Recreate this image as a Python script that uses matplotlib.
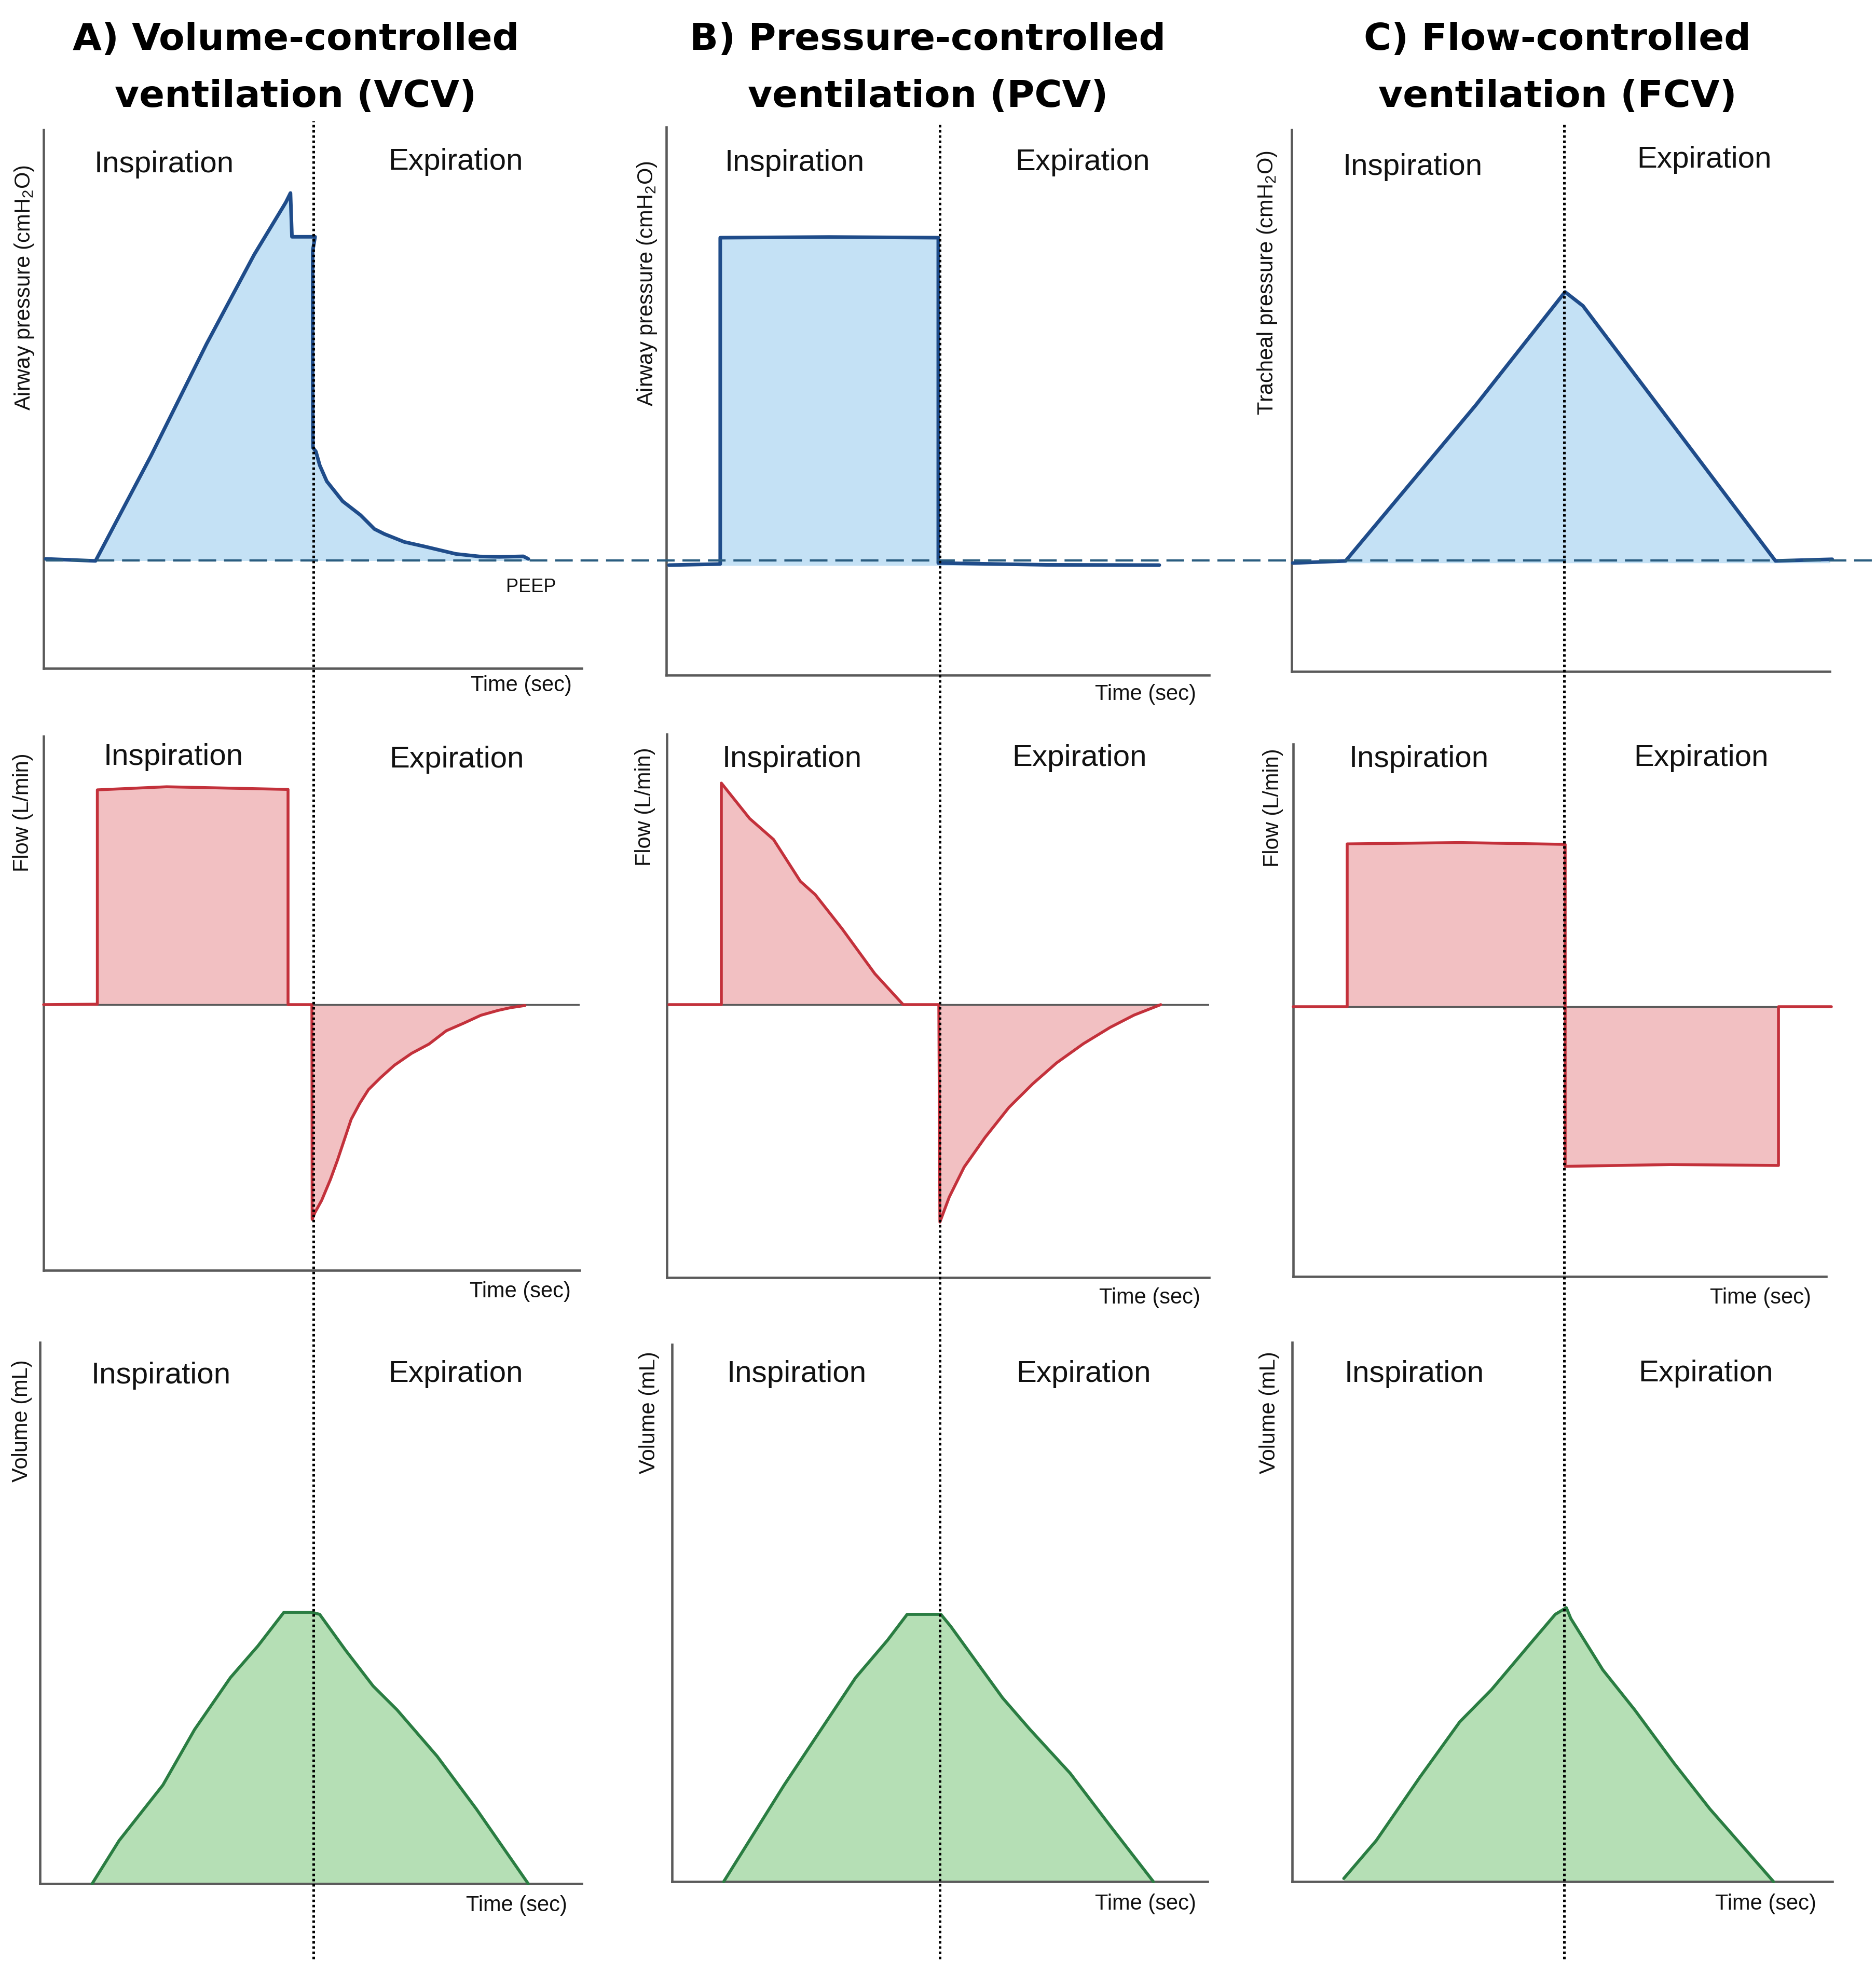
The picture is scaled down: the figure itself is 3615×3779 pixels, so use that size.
import matplotlib
matplotlib.use("Agg")
import matplotlib.pyplot as plt
from matplotlib.lines import Line2D
from matplotlib.transforms import blended_transform_factory

plt.rcParams['font.family'] = ['Liberation Sans', 'DejaVu Sans']
plt.rcParams['mathtext.fontset'] = 'custom'
plt.rcParams['mathtext.rm'] = 'Liberation Sans'
plt.rcParams['mathtext.it'] = 'Liberation Sans:italic'
plt.rcParams['mathtext.bf'] = 'Liberation Sans:bold'

# ---------------- data ----------------
T_MAX = 4.0        # s shown on each time axis
P_MAX = 40.0       # cmH2O
PEEP = 8.0         # cmH2O
F_MAX = 60.0       # L/min
V_MAX = 1000.0     # mL

titles = ["A) Volume-controlled", "B) Pressure-controlled", "C) Flow-controlled"]
subtitles = ["ventilation (VCV)", "ventilation (PCV)", "ventilation (FCV)"]
pressure_labels = ["Airway pressure (cmH$_2$O)", "Airway pressure (cmH$_2$O)",
                   "Tracheal pressure (cmH$_2$O)"]
flow_label = "Flow (L/min)"
volume_label = "Volume (mL)"
time_label = "Time (sec)"
insp_text = "Inspiration"
exp_text = "Expiration"
insp_end = [2.005, 2.015, 2.025]   # end of inspiration (s) per mode

# pressure
vcv_p_t = [0.015, 0.386, 0.798, 1.211, 1.565, 1.800, 1.835, 1.846, 2.018, 2.000,
           2.000, 2.002, 2.024, 2.053, 2.105, 2.223, 2.356, 2.459, 2.533, 2.681,
           2.828, 3.064, 3.241, 3.389, 3.566, 3.603]
vcv_p = [8.13, 7.98, 15.78, 24.09, 30.72, 34.6, 35.3, 32.05, 32.05, 31.0,
         22.0, 16.39, 16.10, 15.07, 13.89, 12.41, 11.38, 10.35, 9.98, 9.39,
         9.06, 8.50, 8.31, 8.28, 8.32, 8.13]
pcv_p_t = [0.021, 0.399, 0.399, 1.20, 2.005, 2.005, 2.80, 3.633]
pcv_p = [8.03, 8.11, 31.93, 31.98, 31.93, 8.18, 8.05, 8.03]
fcv_p_t = [0.008, 0.401, 1.368, 2.032, 2.165, 3.596, 4.018]
fcv_p = [7.99, 8.15, 19.65, 28.02, 26.99, 8.15, 8.27]

# flow
vcv_f_t = [0.0, 0.401, 0.401, 0.918, 1.824, 1.824, 2.002, 2.004, 2.024, 2.075,
           2.140, 2.192, 2.243, 2.295, 2.359, 2.424, 2.514, 2.617, 2.746, 2.876,
           3.005, 3.134, 3.263, 3.392, 3.482, 3.592]
vcv_f = [0.0, 0.1, 48.5, 49.2, 48.6, 0.0, 0.0, -48.5, -47.0, -44.2,
         -39.5, -35.2, -30.6, -25.9, -22.3, -19.2, -16.5, -13.7, -11.0, -8.9,
         -5.9, -4.2, -2.4, -1.3, -0.7, -0.2]
pcv_f_t = [0.015, 0.402, 0.402, 0.611, 0.787, 0.985, 1.094, 1.292, 1.534, 1.743,
           2.006, 2.014, 2.083, 2.193, 2.347, 2.523, 2.699, 2.875, 3.072, 3.270,
           3.446, 3.643]
pcv_f = [0.0, 0.0, 48.7, 40.9, 36.3, 27.1, 24.2, 16.7, 6.8, 0.0,
         0.0, -47.8, -42.3, -35.7, -29.2, -22.6, -17.4, -12.8, -8.6, -5.0,
         -2.3, 0.0]
fcv_f_t = [0.0, 0.405, 0.405, 1.250, 2.041, 2.041, 2.832, 3.642, 3.642, 4.039]
fcv_f = [0.0, 0.0, 36.2, 36.5, 36.1, -35.5, -35.1, -35.3, 0.0, 0.0]

# volume
vcv_v_t = [0.387, 0.586, 0.909, 1.143, 1.407, 1.610, 1.802, 2.009, 2.066, 2.257,
           2.460, 2.637, 2.932, 3.222, 3.605]
vcv_v = [0, 79.6, 182.2, 284.8, 380.6, 439.1, 501.4, 501.4, 497.6, 431.4,
         365.3, 321.2, 235.7, 138.1, 0]
pcv_v_t = [0.386, 0.837, 1.074, 1.371, 1.609, 1.756, 2.008, 2.081, 2.469, 2.674,
           2.973, 3.268, 3.595]
pcv_v = [0, 179.7, 268.6, 379.7, 449.3, 497.6, 497.6, 475.4, 342.0, 283.1,
         201.9, 105.3, 0]
fcv_v_t = [0.382, 0.622, 0.945, 1.241, 1.476, 1.771, 1.948, 2.030, 2.063, 2.300,
           2.536, 2.828, 3.093, 3.564]
fcv_v = [5.8, 76.0, 193.5, 296.4, 356.1, 443.7, 495.7, 508.0, 488.0, 392.7,
         318.6, 219.4, 134.7, 0]

pressure_series = [(vcv_p_t, vcv_p), (pcv_p_t, pcv_p), (fcv_p_t, fcv_p)]
flow_series = [(vcv_f_t, vcv_f), (pcv_f_t, pcv_f), (fcv_f_t, fcv_f)]
volume_series = [(vcv_v_t, vcv_v), (pcv_v_t, pcv_v), (fcv_v_t, fcv_v)]

# ---------------- style / layout ----------------
W, H, DPI = 3615, 3779, 100
BLUE_LINE, BLUE_FILL = "#1f4c8a", "#c4e1f5"
RED_LINE, RED_FILL = "#c3313b", "#f2c0c2"
GREEN_LINE, GREEN_FILL = "#2a7d42", "#b5dfb5"
SPINE = "#5a5a5a"
PEEP_COLOR = "#2a5d80"

# axes boxes in pixels: (left, right, top, bottom)
press_box = [(84, 1121, 250, 1288), (1283.5, 2330, 245, 1301), (2489, 3526, 250, 1293.5)]
# flow: (left, right, top, bottom, zero line)
flow_box = [(84, 1117, 1419, 2448, 1936), (1285, 2330, 1415, 2462, 1936),
            (2492, 3519, 1434, 2460, 1940)]
vol_box = [(76.5, 1121, 2587, 3630), (1295, 2327, 2591, 3626), (2490, 3531, 2587, 3626)]

title_x = [570, 1788, 3001]
title_y = [96, 206]
dotted_top = [233, 235, 240]
dotted_bottom = 3775

insp_pos = [[(316, 332), (1531, 329), (2722, 337)],
            [(334, 1474), (1526, 1478), (2734, 1478)],
            [(310, 2666), (1535, 2663), (2725, 2663)]]
exp_pos = [[(878, 327), (2086, 328), (3284, 323)],
           [(880, 1479), (2080, 1476), (3278, 1476)],
           [(878, 2663), (2088, 2663), (3287, 2662)]]
time_pos = [[(1102, 1332), (2305, 1349), None],
            [(1100, 2500), (2313, 2512), (3490, 2512)],
            [(1093, 3683), (2305, 3680), (3500, 3680)]]
ylab_pos = [[(47, 555), (1247, 547), (2442, 545)],
            [(44, 1566), (1243, 1555), (2453, 1557)],
            [(42, 2738), (1251, 2722), (2446, 2722)]]
peep_pos = (1023, 1141)

fig = plt.figure(figsize=(W / DPI, H / DPI), dpi=DPI)
fig.patch.set_facecolor("white")


def fx(x):
    return x / W


def fy(y):
    return 1 - y / H


def make_ax(l, r, t, b):
    ax = fig.add_axes([fx(l), fy(b), (r - l) / W, (b - t) / H])
    ax.set_facecolor("none")
    for s in ("top", "right"):
        ax.spines[s].set_visible(False)
    for s in ("left", "bottom"):
        ax.spines[s].set_color(SPINE)
        ax.spines[s].set_linewidth(3.3)
    ax.set_xticks([])
    ax.set_yticks([])
    ax.set_xlim(0, T_MAX)
    return ax


def txt(x, y, s, **kw):
    fig.text(fx(x), fy(y), s, **kw)


press_axes = []
for i in range(3):
    l, r, t, b = press_box[i]
    ax = make_ax(l, r, t, b)
    ax.set_ylim(0, P_MAX)
    tt, pp = pressure_series[i]
    ax.fill_between(tt, pp, PEEP, color=BLUE_FILL, lw=0, zorder=1)
    ax.plot(tt, pp, color=BLUE_LINE, lw=5.0, solid_joinstyle="round",
            solid_capstyle="round", clip_on=False, zorder=3)
    press_axes.append(ax)

for i in range(3):
    l, r, t, b, z = flow_box[i]
    ax = make_ax(l, r, t, b)
    ax.set_ylim(-F_MAX, F_MAX * (z - t) / (b - z))
    ax.axhline(0, color=SPINE, lw=2.5, zorder=2)
    tt, ff = flow_series[i]
    ax.fill_between(tt, ff, 0, color=RED_FILL, lw=0, zorder=1)
    ax.plot(tt, ff, color=RED_LINE, lw=4.0, solid_joinstyle="round",
            solid_capstyle="round", clip_on=False, zorder=3)

for i in range(3):
    l, r, t, b = vol_box[i]
    ax = make_ax(l, r, t, b)
    ax.set_ylim(0, V_MAX)
    tt, vv = volume_series[i]
    ax.fill_between(tt, vv, 0, color=GREEN_FILL, lw=0, zorder=1)
    ax.plot(tt, vv, color=GREEN_LINE, lw=4.2, solid_joinstyle="round",
            solid_capstyle="round", clip_on=False, zorder=3)

# PEEP dashed line across the whole figure
peep_tr = blended_transform_factory(fig.transFigure, press_axes[0].transData)
fig.add_artist(Line2D([fx(88), 1.0], [PEEP, PEEP], transform=peep_tr,
                      color=PEEP_COLOR, lw=3.1, linestyle=(0, (7.9, 3.5)), zorder=5))
txt(peep_pos[0], peep_pos[1], "PEEP", fontsize=26, ha="center", va="baseline",
    color="#111111")

# dotted lines at end of inspiration
for i in range(3):
    tr = blended_transform_factory(press_axes[i].transData, fig.transFigure)
    fig.add_artist(Line2D([insp_end[i], insp_end[i]], [fy(dotted_bottom), fy(dotted_top[i])],
                          transform=tr, color="black", lw=3.6,
                          linestyle=(0, (0.95, 1.05)), zorder=6))

# titles
for i in range(3):
    txt(title_x[i], title_y[0], titles[i], fontsize=52, fontweight="bold",
        family="DejaVu Sans", ha="center", va="baseline")
    txt(title_x[i], title_y[1], subtitles[i], fontsize=52, fontweight="bold",
        family="DejaVu Sans", ha="center", va="baseline")

# labels
ylabels = [pressure_labels, [flow_label] * 3, [volume_label] * 3]
for r in range(3):
    for c in range(3):
        x, y = insp_pos[r][c]
        txt(x, y, insp_text, fontsize=42, ha="center", va="baseline", color="#111111")
        x, y = exp_pos[r][c]
        txt(x, y, exp_text, fontsize=42, ha="center", va="baseline", color="#111111")
        if time_pos[r][c] is not None:
            x, y = time_pos[r][c]
            txt(x, y, time_label, fontsize=30, ha="right", va="baseline", color="#111111")
        x, y = ylab_pos[r][c]
        txt(x, y, ylabels[r][c], fontsize=30, rotation=90, ha="center", va="center",
            color="#111111")

fig.savefig("out.png", dpi=DPI, facecolor="white")
